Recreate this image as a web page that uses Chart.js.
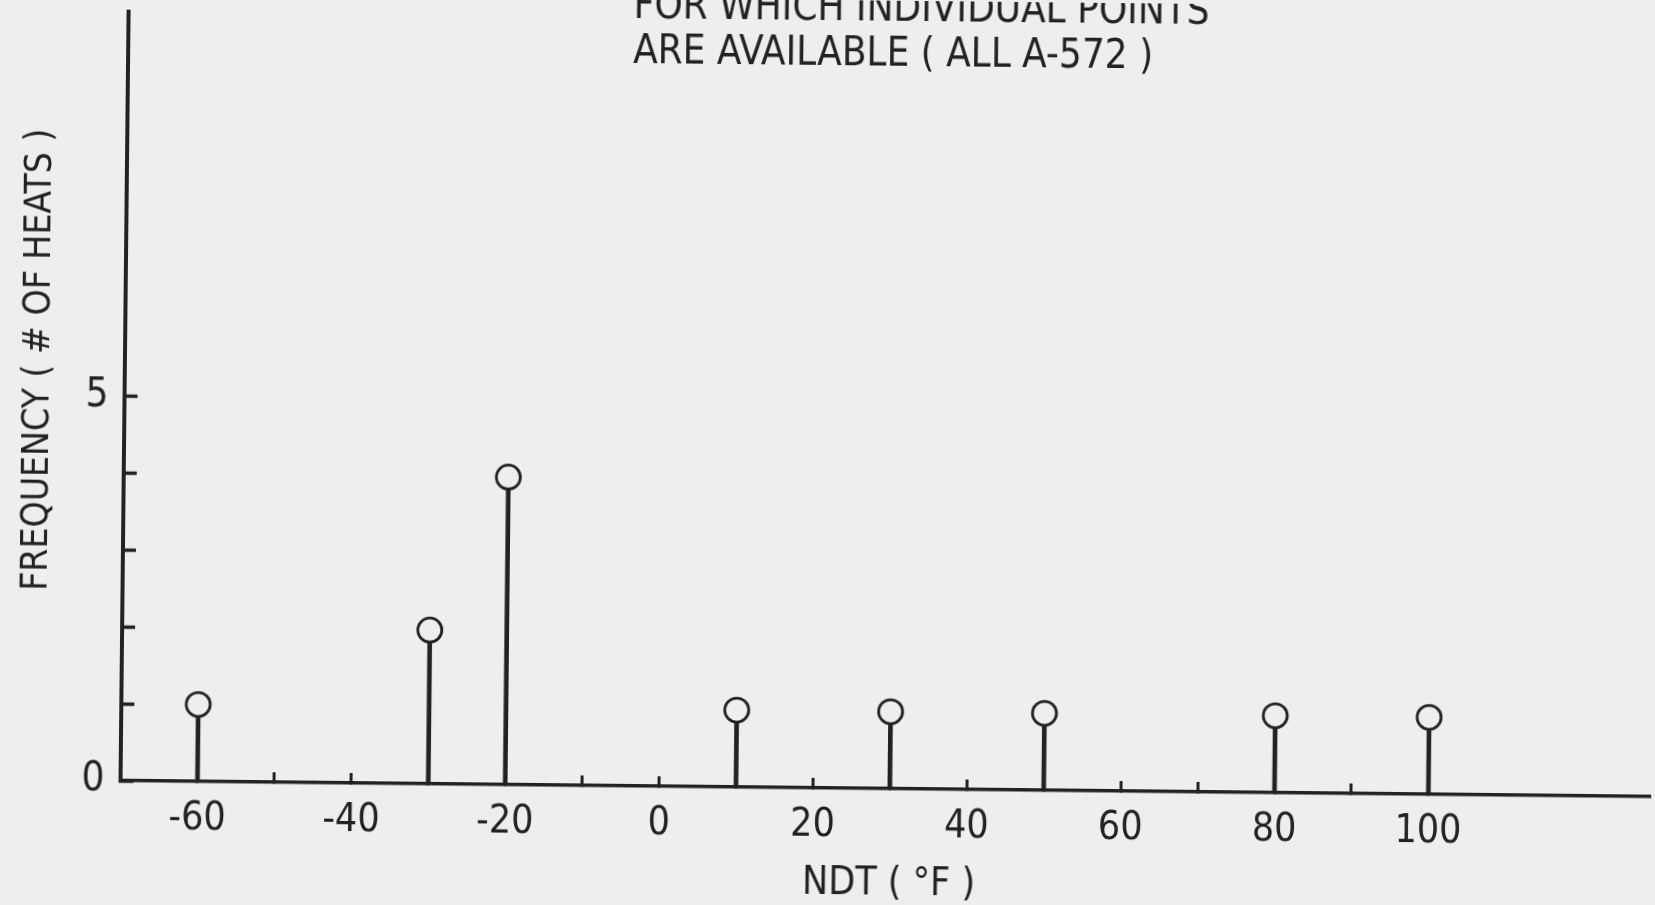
<!DOCTYPE html>
<html>
<head>
<meta charset="utf-8">
<title>NDT frequency</title>
<script src="https://cdn.jsdelivr.net/npm/chart.js@4.4.1/dist/chart.umd.min.js"></script>
<style>
  html, body { margin: 0; padding: 0; background: #eeeeee; overflow: hidden; }
  #wrap { width: 1655px; height: 905px; transform: rotate(0.6deg); }
</style>
</head>
<body>
<div id="wrap"><canvas id="ndtChart" width="1655" height="905"></canvas></div>
<script>
// NDT temperature (°F) of each group and how many heats fall on it
const ndtValues = [-60, -30, -20, 10, 30, 50, 80, 100];
const heatCounts = [1, 2, 4, 1, 1, 1, 1, 1];

const xTicks = [-60, -50, -40, -30, -20, -10, 0, 10, 20, 30, 40, 50, 60, 70, 80, 90, 100];
const xTickLabels = [-60, -40, -20, 0, 20, 40, 60, 80, 100];
const yTicks = [0, 1, 2, 3, 4, 5];
const yTickLabels = [0, 5];

const titleLines = ['FOR WHICH INDIVIDUAL POINTS', 'ARE AVAILABLE ( ALL A-572 )'];
const xTitle = 'NDT ( °F )';
const yTitle = 'FREQUENCY ( # OF HEATS )';

const INK = '#222222';
const PAPER = '#eeeeee';
const FONT = '"Liberation Sans Narrow", "DejaVu Sans Condensed", sans-serif';

Chart.defaults.font.family = FONT;
Chart.defaults.color = INK;

const points = ndtValues.map((x, i) => ({ x: x, y: heatCounts[i] }));

// no extra room for end labels, the axes run right to the layout edges
function noPadding(scale) {
    scale.paddingTop = 0;
    scale.paddingBottom = 0;
    scale.paddingLeft = 0;
    scale.paddingRight = 0;
}

// heading and axis captions, drawn straight onto the canvas
const captions = {
    id: 'captions',
    afterDraw(chart) {
        const ctx = chart.ctx;
        ctx.save();
        ctx.fillStyle = INK;
        ctx.font = `40px ${FONT}`;
        ctx.textAlign = 'left';
        ctx.textBaseline = 'alphabetic';
        titleLines.forEach((line, i) => ctx.fillText(line, 629, 20 + i * 45));

        ctx.font = `39px ${FONT}`;
        ctx.textAlign = 'center';
        ctx.textBaseline = 'middle';
        ctx.fillText(xTitle, 893, 884);

        ctx.translate(38, 368);
        ctx.rotate(-Math.PI / 2);
        ctx.font = `37px ${FONT}`;
        ctx.fillText(yTitle, 0, 0);
        ctx.restore();
    }
};

new Chart(document.getElementById('ndtChart'), {
    type: 'bar',
    data: {
        datasets: [
            {
                type: 'scatter',
                data: points,
                pointStyle: 'circle',
                pointRadius: 12,
                pointBorderWidth: 2.8,
                pointBackgroundColor: PAPER,
                pointBorderColor: INK,
                order: 0
            },
            {
                type: 'bar',
                data: points,
                backgroundColor: INK,
                barThickness: 4,
                order: 1
            }
        ]
    },
    options: {
        responsive: false,
        devicePixelRatio: 1,
        animation: false,
        layout: { autoPadding: false, padding: { top: 19, left: 0, right: 0, bottom: 0 } },
        plugins: {
            legend: { display: false },
            tooltip: { enabled: false }
        },
        scales: {
            x: {
                type: 'linear',
                offset: false,
                min: -70,
                max: 129,
                afterBuildTicks: scale => { scale.ticks = xTicks.map(v => ({ value: v })); },
                afterFit: scale => { scale.height = 117; noPadding(scale); },
                grid: {
                    display: true,
                    offset: false,
                    drawOnChartArea: false,
                    drawTicks: true,
                    tickLength: -10,
                    tickWidth: 3,
                    tickColor: INK
                },
                border: { display: true, color: INK, width: 3.5 },
                ticks: {
                    autoSkip: false,
                    maxRotation: 0,
                    padding: 24,
                    color: INK,
                    font: { size: 39 },
                    callback: v => xTickLabels.includes(v) ? String(v) : ''
                }
            },
            y: {
                min: 0,
                max: 10,
                afterBuildTicks: scale => { scale.ticks = yTicks.map(v => ({ value: v })); },
                afterFit: scale => { scale.width = 124; noPadding(scale); },
                grid: {
                    display: true,
                    offset: false,
                    drawOnChartArea: false,
                    drawTicks: true,
                    tickLength: -13,
                    tickWidth: 3.5,
                    tickColor: INK
                },
                border: { display: true, color: INK, width: 4 },
                ticks: {
                    autoSkip: false,
                    padding: 29,
                    color: INK,
                    font: { size: 40 },
                    callback: v => yTickLabels.includes(v) ? String(v) : ''
                }
            }
        }
    },
    plugins: [captions]
});
</script>
</body>
</html>
